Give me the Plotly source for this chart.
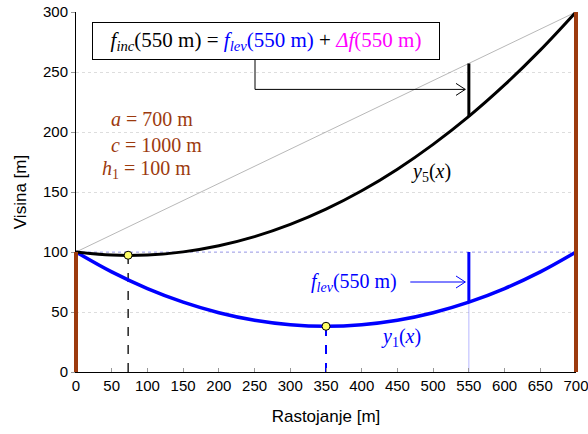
import plotly.graph_objects as go

# ---- data ----
x_pts = [0, 50, 100, 150, 200, 250, 300, 350, 400, 450, 500, 550, 600, 650, 700]
y1_vals = [100, 83.4, 69.5, 58.2, 49.4, 43.1, 39.4, 38.1, 39.4, 43.1, 49.4, 58.2, 69.5, 83.4, 100]
y5_vals = [100, 97.4, 97.5, 100.1, 105.2, 112.8, 123.0, 135.7, 151.0, 169.0, 189.7, 213.0, 239.2, 268.2, 300]
chord_x = [0, 700]
chord_y = [100, 300]
x_mark = 550
y5_at_mark = 213.0
chord_at_mark = 257.1
y1_at_mark = 58.2
h1 = 100
min5_x, min5_y = 73, 97.3
min1_x, min1_y = 350, 38.1
left_support = [0, 100]   # x, top y
right_support = [700, 300]
x_ticks = list(range(0, 701, 50))
y_ticks = list(range(0, 301, 50))
X_RANGE = [0, 700]
Y_RANGE = [0, 300]

BROWN = "#9C3A0E"
BLUE = "#0000FF"
SERIF = "Liberation Serif, Times New Roman, serif"
SANS = "Liberation Sans, Arial, sans-serif"

fig = go.Figure()

# thin horizontal at h1
fig.add_trace(go.Scatter(x=[0, 700], y=[h1, h1], mode="lines",
                         line=dict(color="#7777FF", width=0.6, dash="dot"), hoverinfo="skip"))
# thin vertical at 550
fig.add_trace(go.Scatter(x=[x_mark, x_mark], y=[0, h1], mode="lines",
                         line=dict(color="#8888FF", width=0.6), hoverinfo="skip"))
# chord
fig.add_trace(go.Scatter(x=chord_x, y=chord_y, mode="lines",
                         line=dict(color="#888888", width=0.6), hoverinfo="skip"))
# dashed verticals to minima
fig.add_trace(go.Scatter(x=[min5_x, min5_x], y=[0, min5_y], mode="lines",
                         line=dict(color="black", width=1.3, dash="dash")))
fig.add_trace(go.Scatter(x=[min1_x, min1_x], y=[0, min1_y], mode="lines",
                         line=dict(color=BLUE, width=2, dash="dash")))
# curves
fig.add_trace(go.Scatter(x=x_pts, y=y1_vals, mode="lines", line_shape="spline",
                         line=dict(color=BLUE, width=3.5)))
fig.add_trace(go.Scatter(x=x_pts, y=y5_vals, mode="lines", line_shape="spline",
                         line=dict(color="black", width=3)))
# sag markers at 550
fig.add_trace(go.Scatter(x=[x_mark, x_mark], y=[y5_at_mark, chord_at_mark], mode="lines",
                         line=dict(color="black", width=3)))
fig.add_trace(go.Scatter(x=[x_mark, x_mark], y=[y1_at_mark, h1], mode="lines",
                         line=dict(color=BLUE, width=3)))
# minimum points
fig.add_trace(go.Scatter(x=[min5_x, min1_x], y=[min5_y, min1_y], mode="markers",
                         marker=dict(color="#FFFF66", size=8, line=dict(color="black", width=1))))


# supports (paper x so they are not clipped at the plot edges)
def to_paper(v):
    return (v - X_RANGE[0]) / (X_RANGE[1] - X_RANGE[0])


for sx, top in (left_support, right_support):
    px = to_paper(sx)
    fig.add_shape(type="line", xref="paper", yref="y", x0=px, x1=px, y0=0, y1=top,
                  line=dict(color=BROWN, width=4), layer="above")

# annotation box
box_text = ("<i>f</i><sub><i>inc</i></sub>(550 m) = "
            "<span style='color:#0000FF'><i>f</i><sub><i>lev</i></sub>(550 m)</span> + "
            "<span style='color:#FF00FF'><i>Δf</i>(550 m)</span>")
fig.add_annotation(x=266, y=276, text=box_text, showarrow=False, width=336,
                   font=dict(family=SERIF, size=21, color="black"),
                   bordercolor="black", borderwidth=1, bgcolor="white", borderpad=5)

# connector from box to the black sag line
arrow_y = 235.5
tip_x = x_mark - 5
fig.add_shape(type="path", path=f"M 250.6,260.5 L 250.6,{arrow_y} L {tip_x},{arrow_y}",
              line=dict(color="black", width=1), xref="x", yref="y")
fig.add_shape(type="path",
              path=f"M {tip_x-13},{arrow_y+5} L {tip_x},{arrow_y} L {tip_x-13},{arrow_y-5}",
              line=dict(color="black", width=1), xref="x", yref="y")

# f_lev label with arrow
flev_y = 75
fig.add_annotation(x=389, y=flev_y, text="<i>f</i><sub><i>lev</i></sub>(550 m)", showarrow=False,
                   font=dict(family=SERIF, size=20, color=BLUE))
fig.add_shape(type="line", x0=468, y0=flev_y, x1=tip_x, y1=flev_y,
              line=dict(color=BLUE, width=1), xref="x", yref="y")
fig.add_shape(type="path",
              path=f"M {tip_x-13},{flev_y+5} L {tip_x},{flev_y} L {tip_x-13},{flev_y-5}",
              line=dict(color=BLUE, width=1), xref="x", yref="y")

# curve labels
fig.add_annotation(x=497, y=166, text="<i>y</i><sub>5</sub>(<i>x</i>)", showarrow=False,
                   font=dict(family=SERIF, size=20, color="black"))
fig.add_annotation(x=455, y=29, text="<i>y</i><sub>1</sub>(<i>x</i>)", showarrow=False,
                   font=dict(family=SERIF, size=20, color=BLUE))

# parameters
for xx, yy, t in [(106, 211, "<i>a</i> = 700 m"),
                  (112, 189.5, "<i>c</i> = 1000 m"),
                  (98, 168.5, "<i>h</i><sub>1</sub> = 100 m")]:
    fig.add_annotation(x=xx, y=yy, text=t, showarrow=False,
                       font=dict(family=SERIF, size=20, color=BROWN))

fig.update_layout(
    width=588, height=434,
    margin=dict(l=76, r=12, t=12, b=62),
    plot_bgcolor="white", paper_bgcolor="white",
    showlegend=False,
    xaxis=dict(range=X_RANGE, tickvals=x_ticks, showgrid=False, zeroline=False,
               automargin=False, ticklabeloverflow="allow",
               showline=True, linecolor="black", linewidth=1,
               ticks="inside", ticklen=4, tickcolor="#999999",
               tickfont=dict(family=SANS, size=15, color="black"),
               title=dict(text="Rastojanje [m]", font=dict(family=SANS, size=17, color="black"),
                          standoff=17)),
    yaxis=dict(range=Y_RANGE, tickvals=y_ticks, showgrid=True, gridcolor="#DDDDDD",
               griddash="dot", gridwidth=1, zeroline=False,
               automargin=False, ticklabeloverflow="allow",
               showline=True, linecolor="black", linewidth=1,
               ticks="outside", ticklen=4, tickcolor="#999999",
               tickfont=dict(family=SANS, size=15, color="black"),
               title=dict(text="Visina [m]", font=dict(family=SANS, size=17, color="black"),
                          standoff=12)),
)

fig.write_html("out.html", config={"displayModeBar": False},
               post_script="document.body.style.margin='0';document.body.style.padding='0';")
